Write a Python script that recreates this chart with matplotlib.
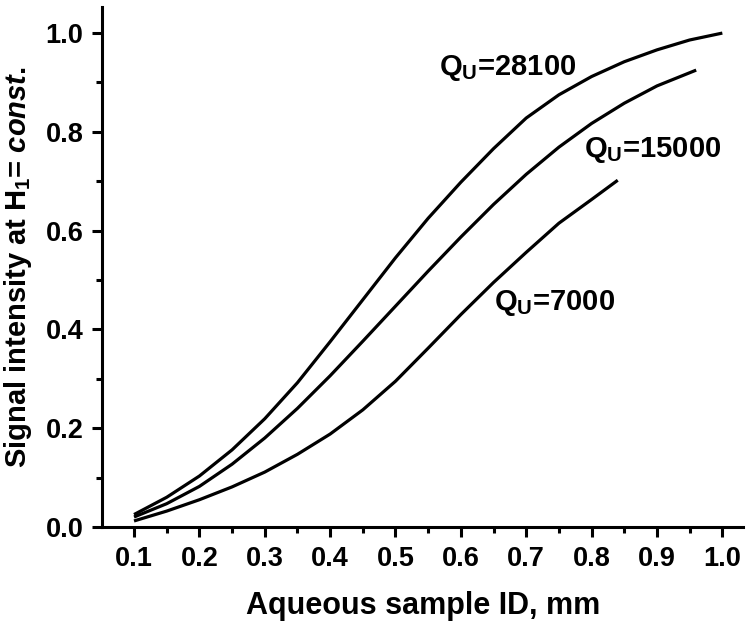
import matplotlib
matplotlib.use("Agg")
import matplotlib.pyplot as plt
from matplotlib.ticker import MultipleLocator

plt.rcParams['font.family'] = ['Liberation Sans', 'DejaVu Sans']
plt.rcParams['mathtext.fontset'] = 'custom'
plt.rcParams['mathtext.rm'] = 'Liberation Sans:bold'
plt.rcParams['mathtext.bf'] = 'Liberation Sans:bold'
plt.rcParams['mathtext.it'] = 'Liberation Sans:italic:bold'
plt.rcParams['mathtext.default'] = 'bf'

# Data
x_28100 = [0.10, 0.15, 0.20, 0.25, 0.30, 0.35, 0.40, 0.45, 0.50, 0.55, 0.60,
           0.65, 0.70, 0.75, 0.80, 0.85, 0.90, 0.95, 1.00]
y_28100 = [0.025, 0.060, 0.103, 0.156, 0.219, 0.292, 0.375, 0.460, 0.545, 0.625,
           0.698, 0.766, 0.828, 0.875, 0.912, 0.942, 0.966, 0.986, 1.000]

x_15000 = [0.10, 0.15, 0.20, 0.25, 0.30, 0.35, 0.40, 0.45, 0.50, 0.55, 0.60,
           0.65, 0.70, 0.75, 0.80, 0.85, 0.90, 0.96]
y_15000 = [0.020, 0.047, 0.082, 0.127, 0.180, 0.240, 0.306, 0.376, 0.447, 0.518,
           0.587, 0.653, 0.714, 0.769, 0.817, 0.858, 0.893, 0.925]

x_7000 = [0.10, 0.15, 0.20, 0.25, 0.30, 0.35, 0.40, 0.45, 0.50, 0.55, 0.60,
          0.65, 0.70, 0.75, 0.80, 0.84]
y_7000 = [0.012, 0.032, 0.055, 0.081, 0.111, 0.147, 0.188, 0.237, 0.295, 0.362,
          0.430, 0.495, 0.556, 0.615, 0.663, 0.702]

labels = [r'Q$_\mathregular{U}$=28100', r'Q$_\mathregular{U}$=15000', r'Q$_\mathregular{U}$=7000']
label_pos = [(0.566, 0.93), (0.788, 0.763), (0.65, 0.453)]

xticks = [0.1, 0.2, 0.3, 0.4, 0.5, 0.6, 0.7, 0.8, 0.9, 1.0]
yticks = [0.0, 0.2, 0.4, 0.6, 0.8, 1.0]

fig = plt.figure(figsize=(7.5, 6.28), dpi=100)
ax = fig.add_axes([0.136, 0.161, 0.855, 0.828])

for xs, ys in [(x_28100, y_28100), (x_15000, y_15000), (x_7000, y_7000)]:
    ax.plot(xs, ys, color='black', lw=2.3, solid_capstyle='butt',
            solid_joinstyle='round')

for lab, (lx, ly) in zip(labels, label_pos):
    ax.text(lx, ly, lab, fontsize=21, fontweight='bold', ha='left', va='center')

ax.set_xlim(0.051, 1.032)
ax.set_ylim(0.0, 1.053)
ax.set_xticks(xticks)
ax.set_xticklabels([f'{v:.1f}' for v in xticks])
ax.set_yticks(yticks)
ax.set_yticklabels([f'{v:.1f}' for v in yticks])
ax.xaxis.set_minor_locator(MultipleLocator(0.05))
ax.yaxis.set_minor_locator(MultipleLocator(0.1))

for s in ['top', 'right']:
    ax.spines[s].set_visible(False)
for s in ['left', 'bottom']:
    ax.spines[s].set_linewidth(2.2)

ax.tick_params(which='major', direction='out', length=7.5, width=2.2,
               labelsize=19.5, pad=6)
ax.tick_params(which='minor', direction='out', length=4.5, width=2.2)
for t in ax.get_xticklabels() + ax.get_yticklabels():
    t.set_fontweight('bold')

ax.set_xlabel('Aqueous sample ID, mm', fontsize=22, fontweight='bold', labelpad=14)
ax.set_ylabel(r'Signal intensity at H$_1$= $\mathit{const.}$', fontsize=21,
              fontweight='bold', labelpad=8)

fig.savefig('out.png', dpi=100)
